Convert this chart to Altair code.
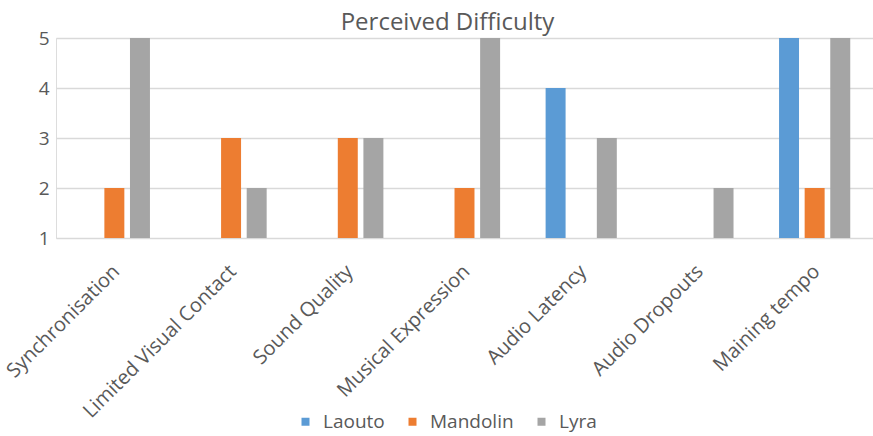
import altair as alt
import pandas as pd

categories = ["Synchronisation", "Limited Visual Contact", "Sound Quality",
              "Musical Expression", "Audio Latency", "Audio Dropouts", "Maining tempo"]
series = ["Laouto", "Mandolin", "Lyra"]
laouto = [None, None, None, None, 4, None, 5]
mandolin = [2, 3, 3, 2, None, None, 2]
lyra = [5, 2, 3, 5, 3, 2, 5]
colors = ["#5B9BD5", "#ED7D31", "#A5A5A5"]

rows = []
for s, vals in zip(series, [laouto, mandolin, lyra]):
    for c, v in zip(categories, vals):
        rows.append({"category": c, "instrument": s, "value": v})
df = pd.DataFrame(rows)

FONT = "Open Sans"
TXT = "#595959"

chart = alt.Chart(df).mark_bar().encode(
    x=alt.X("category:N", sort=categories, title=None,
            scale=alt.Scale(paddingInner=0.39, paddingOuter=0.195),
            axis=alt.Axis(labelAngle=-45, labelAlign="right", labelBaseline="top",
                          labelPadding=23, labelOffset=-5, labelFontSize=20,
                          labelColor=TXT, labelFont=FONT, ticks=False, tickSize=0,
                          domain=False, grid=False, labelLimit=300)),
    xOffset=alt.XOffset("instrument:N", sort=series,
                        scale=alt.Scale(paddingInner=0.22, paddingOuter=0)),
    y=alt.Y("value:Q", title=None,
            scale=alt.Scale(domain=[1, 5], zero=False, nice=False),
            axis=alt.Axis(values=[1, 2, 3, 4, 5], format="d", labelFontSize=19,
                          labelColor=TXT, labelFont=FONT, labelPadding=7,
                          labelAlign="right", labelBaseline="middle",
                          ticks=False, tickSize=0, domain=False, grid=True,
                          gridColor="#D9D9D9", gridWidth=1.5)),
    y2=alt.datum(1),
    color=alt.Color("instrument:N", sort=series, title=None,
                    scale=alt.Scale(domain=series, range=colors),
                    legend=alt.Legend(orient="none", direction="horizontal",
                                      legendX=240, legendY=374,
                                      symbolType="square", symbolSize=64,
                                      symbolStrokeWidth=0,
                                      labelFontSize=19, labelColor=TXT,
                                      labelFont=FONT, labelOffset=8,
                                      columnPadding=18)),
).properties(
    width=817, height=200,
    title=alt.TitleParams("Perceived Difficulty", fontSize=24, font=FONT,
                          color=TXT, fontWeight="normal", anchor="middle",
                          frame="group", dx=-17, offset=-6),
    autosize=alt.AutoSizeParams(type="none"),
    padding={"left": 56, "top": 38, "right": 0, "bottom": 198},
).configure_view(stroke=None).configure(background="white")

chart.save("out.html", embed_options={"renderer": "svg", "actions": False})
